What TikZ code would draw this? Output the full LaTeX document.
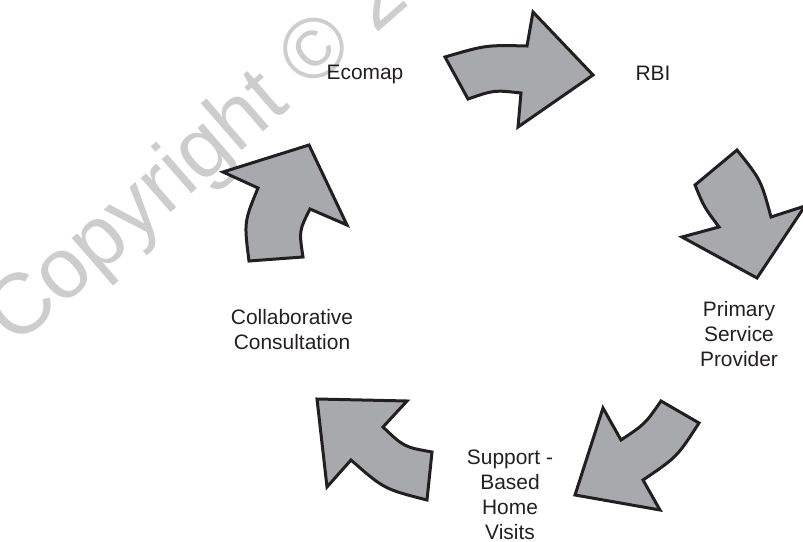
\documentclass[tikz,border=0pt]{standalone}
\usepackage{fontspec}
\setmainfont{Liberation Sans}
\definecolor{arrowfill}{RGB}{167,169,172}
\definecolor{ink}{RGB}{35,31,32}
\definecolor{wmark}{RGB}{205,205,205}
\begin{document}
\begin{tikzpicture}[x=1bp,y=-1bp,
  cyclearrow/.style={fill=arrowfill,draw=ink,line width=3bp,line join=miter,miter limit=10},
  lbl/.style={text=ink,font=\fontsize{21}{25}\selectfont,align=center,inner sep=0pt,anchor=base}]
\useasboundingbox (0,0) rectangle (803,542);
\clip (0,0) rectangle (803,542);
% watermark
\node[text=wmark,font=\fontsize{86}{90}\selectfont,rotate=41,anchor=base west,inner sep=0pt] (wm) at (15,348) {Copyright © 2021};
% arrows
\draw[cyclearrow] (445,57) .. controls (486,45) .. (527,46) -- (533,12) -- (593,75) -- (518,127) -- (521,93) .. controls (494,90) .. (468,99) -- cycle;
\draw[cyclearrow] (737,150) .. controls (761,180) .. (771,217) -- (805,206) -- (757,278) -- (682,237) -- (719,227) .. controls (704,207) .. (695,185) -- cycle;
\draw[cyclearrow] (661,401) -- (699,423) .. controls (677,457) .. (643,480) -- (660,510) -- (575,495) -- (603,408) -- (621,440) .. controls (645,424) .. cycle;
\draw[cyclearrow] (317,399) -- (407,401) -- (383,427) .. controls (404,447) .. (432,452) -- (427,500) .. controls (384,489) .. (351,460) -- (327,487) -- cycle;
\draw[cyclearrow] (309,145) -- (347,225) -- (310,209) .. controls (299,231) .. (303,257) -- (249,261) .. controls (244,222) .. (258,188) -- (223,172) -- cycle;
% labels (anchor base = baseline of the last line)
\node[lbl] (ecomap) at (365,80) {Ecomap};
\node[lbl] (rbi) at (653,81) {RBI};
\node[lbl] (psp) at (739,366) {Primary\\Service\\Provider};
\node[lbl] (sbhv) at (510,539) {Support -\\Based\\Home\\Visits};
\node[lbl] (cc) at (292,349) {Collaborative\\Consultation};
\end{tikzpicture}
\end{document}
